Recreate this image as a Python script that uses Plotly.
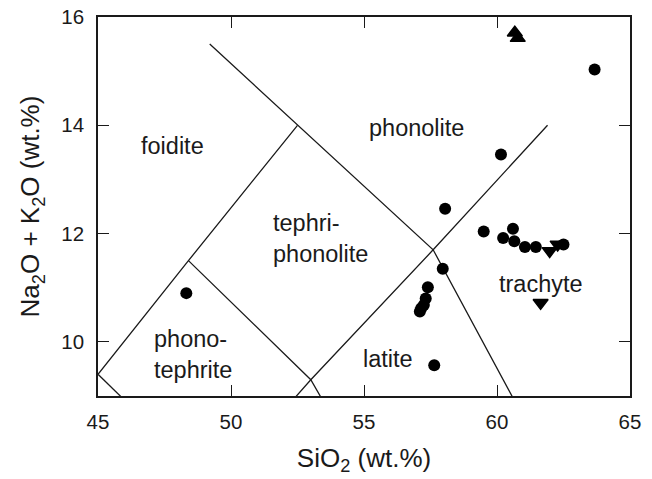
import plotly.graph_objects as go

# Boundary lines of the TAS diagram (SiO2, Na2O+K2O), segments separated by None
boundary_x = [49.2, 57.6, 61.0, None,
              45.0, 48.4, 52.5, None,
              48.4, 53.0, 57.0, None,
              49.4, 53.0, 57.6, 61.9, None,
              45.0, 49.4]
boundary_y = [15.5, 11.7, 8.6, None,
              9.4, 11.5, 14.0, None,
              11.5, 9.3, 5.9, None,
              7.3, 9.3, 11.7, 14.0, None,
              9.4, 7.3]

# Samples plotted as circles
circle_sio2 = [63.67, 60.15, 58.05, 59.5, 60.6, 60.23, 60.65, 61.05, 61.46, 62.5,
               57.96, 57.4, 57.32, 57.25, 57.15, 57.1, 57.64, 48.32]
circle_alk = [15.03, 13.46, 12.46, 12.04, 12.09, 11.92, 11.86, 11.75, 11.75, 11.8,
              11.35, 11.01, 10.8, 10.68, 10.62, 10.56, 9.57, 10.9]

# Samples plotted as upward triangles
tri_up_sio2 = [60.67, 60.78]
tri_up_alk = [15.71, 15.61]

# Samples plotted as downward triangles
tri_down_sio2 = [62.28, 61.98, 61.64]
tri_down_alk = [11.8, 11.68, 10.72]

# Field labels
field_names = ["foidite", "phonolite", "tephri-<br>phonolite", "phono-<br>tephrite", "latite", "trachyte"]
field_x = [47.8, 56.98, 51.5, 47.03, 55.91, 61.64]
field_y = [13.62, 13.95, 11.9, 9.77, 9.68, 11.06]
field_align = ["center", "center", "left", "left", "center", "center"]

x_ticks = [45, 50, 55, 60, 65]
y_ticks = [10, 12, 14, 16]

FONT = "Liberation Sans, Arial, Helvetica, sans-serif"

fig = go.Figure()
fig.add_trace(go.Scatter(x=boundary_x, y=boundary_y, mode="lines",
                         line=dict(color="#1a1a1a", width=1.3), hoverinfo="skip",
                         showlegend=False))
fig.add_trace(go.Scatter(x=circle_sio2, y=circle_alk, mode="markers",
                         marker=dict(symbol="circle", size=12, color="black"),
                         showlegend=False))
fig.add_trace(go.Scatter(x=tri_up_sio2, y=tri_up_alk, mode="markers",
                         marker=dict(symbol="triangle-up", size=13, color="black",
                                     line=dict(color="black", width=1.5)),
                         showlegend=False))
fig.add_trace(go.Scatter(x=tri_down_sio2, y=tri_down_alk, mode="markers",
                         marker=dict(symbol="triangle-down", size=13, color="black",
                                     line=dict(color="black", width=1.5)),
                         showlegend=False))

for name, x, y, al in zip(field_names, field_x, field_y, field_align):
    fig.add_annotation(x=x, y=y, text=name, showarrow=False,
                       xanchor="left" if al == "left" else "center",
                       yanchor="middle", align=al,
                       font=dict(family=FONT, size=23.5, color="#1a1a1a"))

axis_common = dict(showline=True, linecolor="#1a1a1a", linewidth=1.6, mirror="ticks",
                   ticks="inside", ticklen=11, tickwidth=1.3, tickcolor="#1a1a1a",
                   showgrid=False, zeroline=False,
                   tickfont=dict(family=FONT, size=20.5, color="#1a1a1a"))

fig.update_xaxes(range=[45, 65], tickvals=x_ticks, ticklabelstandoff=7,
                 title=dict(text="SiO<sub>2</sub> (wt.%)", standoff=16,
                            font=dict(family=FONT, size=26, color="#1a1a1a")),
                 **axis_common)
fig.update_yaxes(range=[9, 16], tickvals=y_ticks, ticklabelstandoff=8,
                 title=dict(text="Na<sub>2</sub>O + K<sub>2</sub>O (wt.%)", standoff=14,
                            font=dict(family=FONT, size=26, color="#1a1a1a")),
                 **axis_common)

fig.update_layout(width=652, height=479,
                  margin=dict(l=98, r=22, t=17, b=83, autoexpand=False),
                  plot_bgcolor="white", paper_bgcolor="white")

fig.write_html("out.html")
